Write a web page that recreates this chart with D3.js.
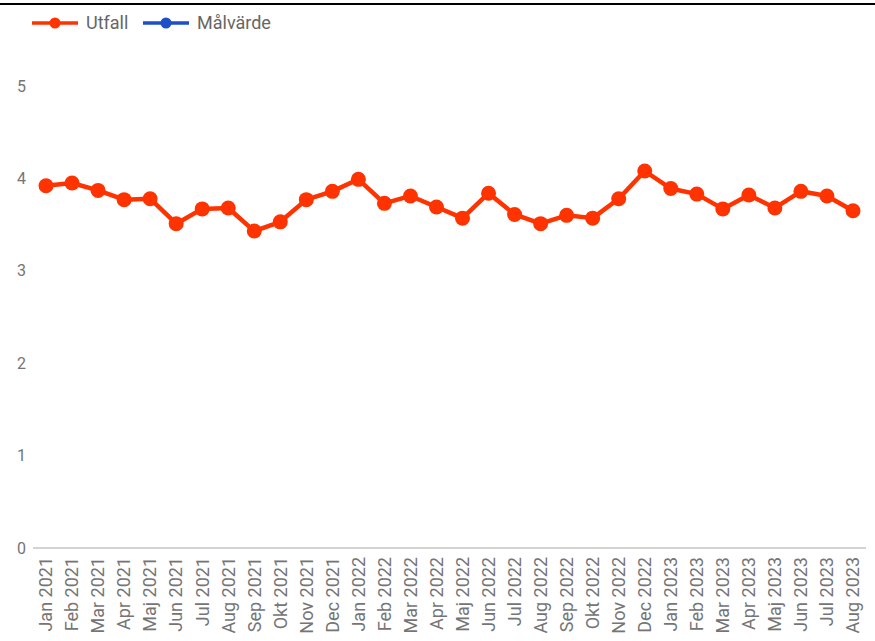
<!DOCTYPE html>
<html>
<head>
<meta charset="utf-8">
<script src="https://cdn.jsdelivr.net/npm/d3@7"></script>
<style>
  html, body { margin: 0; padding: 0; background: #fff; }
  svg { display: block; font-family: Roboto, "Noto Sans", sans-serif; }
</style>
</head>
<body>
<svg id="chart" width="875" height="641"></svg>
<script>
// Monthly outcome values (Utfall), Jan 2021 – Aug 2023
const months = [
  "Jan 2021","Feb 2021","Mar 2021","Apr 2021","Maj 2021","Jun 2021","Jul 2021","Aug 2021",
  "Sep 2021","Okt 2021","Nov 2021","Dec 2021",
  "Jan 2022","Feb 2022","Mar 2022","Apr 2022","Maj 2022","Jun 2022","Jul 2022","Aug 2022",
  "Sep 2022","Okt 2022","Nov 2022","Dec 2022",
  "Jan 2023","Feb 2023","Mar 2023","Apr 2023","Maj 2023","Jun 2023","Jul 2023","Aug 2023"
];
const utfall = [
  3.92, 3.95, 3.87, 3.77, 3.78, 3.51, 3.67, 3.68,
  3.43, 3.53, 3.77, 3.86,
  3.99, 3.73, 3.81, 3.69, 3.57, 3.84, 3.61, 3.51,
  3.60, 3.57, 3.78, 4.08,
  3.89, 3.83, 3.67, 3.82, 3.68, 3.86, 3.81, 3.65
];
const yTicks = [0, 1, 2, 3, 4, 5];
const seriesNames = ["Utfall", "Målvärde"];
const seriesColors = ["#ff3300", "#1f4fc6"];

const svg = d3.select("#chart");
const W = 875;

// top rule
svg.append("line")
  .attr("x1", 0).attr("x2", W).attr("y1", 4).attr("y2", 4)
  .attr("stroke", "#000").attr("stroke-width", 2);

const x = d3.scaleBand().domain(months).range([33, 866]);
const y = d3.scaleLinear().domain([0, 5]).range([548, 86]);

// y tick labels
const yAxis = svg.append("g").attr("transform", "translate(26,0)")
  .call(d3.axisLeft(y).tickValues(yTicks).tickSize(0).tickPadding(0).tickFormat(d3.format("d")));
yAxis.select(".domain").remove();
yAxis.selectAll("text").attr("fill", "#757575").attr("font-size", 16)
  .attr("font-family", "Roboto, sans-serif");

// baseline
svg.append("line")
  .attr("x1", x.range()[0]).attr("x2", x.range()[1])
  .attr("y1", y(0)).attr("y2", y(0))
  .attr("stroke", "#c4c4c4").attr("stroke-width", 1.5);

// x labels
const xAxis = svg.append("g").attr("transform", `translate(0,${y(0)})`)
  .call(d3.axisBottom(x).tickSize(0).tickPadding(0));
xAxis.select(".domain").remove();
xAxis.selectAll("text")
  .attr("fill", "#757575").attr("font-size", 18)
  .attr("font-family", "Roboto, sans-serif")
  .attr("text-anchor", "end")
  .attr("transform", "rotate(-90)")
  .attr("x", -9).attr("y", 0).attr("dy", "0.35em");

// outcome line and points
const cx = d => x(d) + x.bandwidth() / 2;
const line = d3.line().x((d, i) => cx(months[i])).y(d => y(d));
svg.append("path").datum(utfall)
  .attr("d", line)
  .attr("fill", "none")
  .attr("stroke", seriesColors[0])
  .attr("stroke-width", 4.5)
  .attr("stroke-linejoin", "round");
svg.append("g").selectAll("circle").data(utfall).join("circle")
  .attr("cx", (d, i) => cx(months[i]))
  .attr("cy", d => y(d))
  .attr("r", 7.5)
  .attr("fill", seriesColors[0]);

// legend
const legendX = [32, 143];
const legend = svg.append("g");
seriesNames.forEach((name, i) => {
  const g = legend.append("g").attr("transform", `translate(${legendX[i]},23)`);
  g.append("line").attr("x1", 0).attr("x2", 46).attr("y1", 0).attr("y2", 0)
    .attr("stroke", seriesColors[i]).attr("stroke-width", 3.5);
  g.append("circle").attr("cx", 23).attr("cy", 0).attr("r", 5.5).attr("fill", seriesColors[i]);
  g.append("text").attr("x", 54).attr("y", 0).attr("dy", "0.35em")
    .attr("fill", "#666").attr("font-size", 18).text(name);
});
</script>
</body>
</html>
